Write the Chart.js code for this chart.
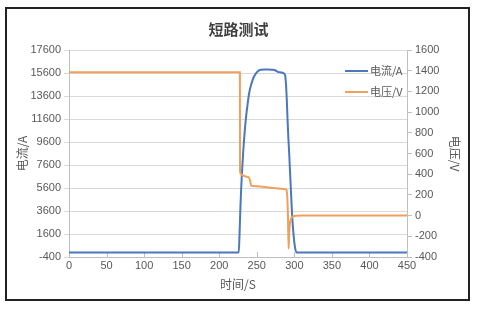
<!DOCTYPE html>
<html><head><meta charset="utf-8">
<script src="https://cdn.jsdelivr.net/npm/chart.js@4.4.1/dist/chart.umd.min.js"></script>
<style>
html,body{margin:0;padding:0;background:#fff;}
#wrap{position:absolute;left:0;top:0;width:477px;height:309px;}
#frame{position:absolute;left:5px;top:7px;width:461px;height:290px;border:2px solid #222;box-sizing:content-box;pointer-events:none;}
canvas{position:absolute;left:0;top:0;}
</style></head>
<body>
<div id="wrap"><canvas id="c" width="477" height="309"></canvas><div id="frame"></div></div>
<script>
const chartTitle = '短路测试';
const xTitle = '时间/S';
const yLeftTitle = '电流/A';
const yRightTitle = '电压/V';
const currentLabel = '电流/A';
const voltageLabel = '电压/V';

const timeI = [0, 226, 227, 228, 229, 230, 232, 235, 238, 240, 243, 246, 250, 253, 256, 260, 265, 270, 275, 278, 282, 285, 287, 288, 289, 290, 291, 292, 293, 295, 297, 299, 301, 303, 450];
const currentA = [0, 0, 1500, 3500, 5200, 6600, 8800, 11300, 13000, 13900, 14700, 15250, 15650, 15820, 15880, 15900, 15900, 15880, 15820, 15700, 15650, 15600, 15500, 15300, 14500, 13200, 11500, 10000, 8800, 6000, 3300, 1500, 400, 0, 0];

const timeV = [0, 227.5, 227.7, 228.5, 230, 233, 236, 239, 241, 242.5, 245, 255, 265, 275, 285, 289.5, 290.5, 291.5, 292.4, 293.2, 294.2, 295.5, 297, 299, 303, 310, 450];
const voltageV = [1385, 1385, 430, 405, 395, 385, 375, 372, 340, 290, 285, 280, 272, 265, 258, 250, 190, 0, -320, -160, -70, -35, -15, -6, -2, 0, 0];

const blue = '#4a78bd';
const orange = '#f0a05a';
const tickColor = '#595959';
const numFont = "'Liberation Sans', 'Noto Sans CJK SC', sans-serif";
const cjkFont = "'Noto Sans CJK SC', sans-serif";
const plain = v => String(v);

const legendPlugin = {
  id: 'customLegend',
  afterDatasetsDraw(chart) {
    const ctx = chart.ctx;
    const items = chart.data.datasets;
    const x0 = 345, x1 = 368, ys = [71, 92];
    ctx.save();
    items.forEach((ds, i) => {
      ctx.strokeStyle = ds.borderColor;
      ctx.lineWidth = 2;
      ctx.beginPath(); ctx.moveTo(x0, ys[i]); ctx.lineTo(x1, ys[i]); ctx.stroke();
      ctx.fillStyle = tickColor;
      ctx.font = "11px " + cjkFont;
      ctx.textBaseline = 'middle';
      ctx.fillText(ds.label, x1 + 2, ys[i]);
    });
    ctx.restore();
  }
};

const innerTicks = {
  id: 'innerTicks',
  beforeDatasetsDraw(chart) {
    const s = chart.scales.x, ctx = chart.ctx, b = chart.chartArea.bottom;
    ctx.save();
    ctx.strokeStyle = '#bfbfbf'; ctx.lineWidth = 1;
    s.ticks.forEach(t => {
      const px = Math.round(s.getPixelForValue(t.value)) + 0.5;
      ctx.beginPath(); ctx.moveTo(px, b); ctx.lineTo(px, b - 5); ctx.stroke();
    });
    ctx.restore();
  }
};

new Chart(document.getElementById('c'), {
  type: 'line',
  data: {
    datasets: [
      { label: currentLabel, data: timeI.map((t, i) => ({x: t, y: currentA[i]})), borderColor: blue, backgroundColor: blue, borderWidth: 2, pointRadius: 0, yAxisID: 'yI', order: 1, cubicInterpolationMode: 'monotone' },
      { label: voltageLabel, data: timeV.map((t, i) => ({x: t, y: voltageV[i]})), borderColor: orange, backgroundColor: orange, borderWidth: 2, pointRadius: 0, yAxisID: 'yV', order: 0, cubicInterpolationMode: 'monotone' }
    ]
  },
  options: {
    responsive: false,
    animation: false,
    layout: { padding: { left: 0, right: 0, top: 0, bottom: 0 } },
    plugins: {
      legend: { display: false },
      tooltip: { enabled: false },
      title: { display: true, text: chartTitle, color: '#404040', font: { family: cjkFont, size: 15, weight: 'bold' }, padding: { top: 20, bottom: 12 } }
    },
    scales: {
      x: {
        type: 'linear', min: 0, max: 450,
        ticks: { stepSize: 50, color: tickColor, font: { family: numFont, size: 11 }, padding: 2, maxRotation: 0, callback: plain },
        grid: { display: true, drawOnChartArea: false, drawTicks: false, color: '#bfbfbf' },
        border: { display: true, color: '#bfbfbf' },
        title: { display: true, text: xTitle, color: tickColor, font: { family: cjkFont, size: 12 }, padding: { top: 2, bottom: 17 } },
        afterFit(s) { s.height = 52; }
      },
      yI: {
        type: 'linear', position: 'left', min: -400, max: 17600,
        ticks: { stepSize: 2000, color: tickColor, font: { family: numFont, size: 11 }, padding: 3, callback: plain },
        grid: { color: '#d9d9d9', tickLength: 5, drawOnChartArea: true },
        border: { display: true, color: '#bfbfbf' },
        title: { display: true, text: yLeftTitle, color: tickColor, font: { family: cjkFont, size: 12 }, padding: { top: 15, bottom: 0 } },
        afterFit(s) { s.width = 69; }
      },
      yV: {
        type: 'linear', position: 'right', min: -400, max: 1600,
        ticks: { stepSize: 200, color: tickColor, font: { family: numFont, size: 11 }, padding: 3, callback: plain },
        grid: { drawOnChartArea: false, tickLength: 5, color: '#bfbfbf' },
        border: { display: true, color: '#bfbfbf' },
        title: { display: true, text: yRightTitle, color: tickColor, font: { family: cjkFont, size: 12 }, padding: { top: 15, bottom: 0 } },
        afterFit(s) { s.width = 70; }
      }
    }
  },
  plugins: [legendPlugin, innerTicks]
});
</script>
</body></html>
